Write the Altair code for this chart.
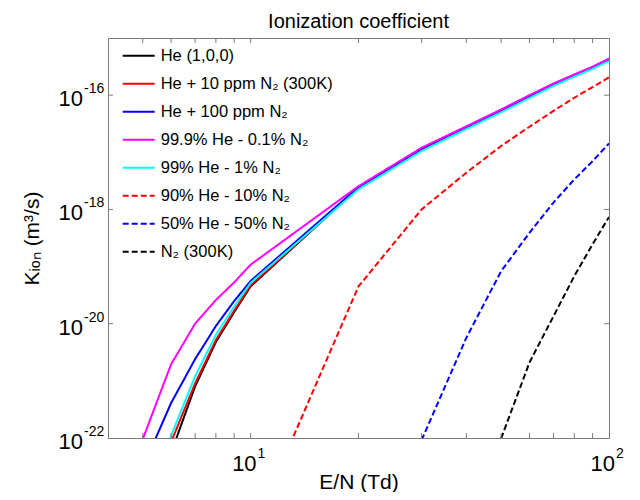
import altair as alt
import pandas as pd

# ---------------- data ----------------
series_names = [
    "He (1,0,0)",
    "He + 10 ppm N₂ (300K)",
    "He + 100 ppm N₂",
    "99.9% He - 0.1% N₂",
    "99% He - 1% N₂",
    "90% He - 10% N₂",
    "50% He - 50% N₂",
    "N₂ (300K)",
]
series_colors = ["#000000", "#ff0000", "#0000ff", "#ff00ff", "#00ffff",
                 "#ff0000", "#0000ff", "#000000"]
series_dashes = [[1, 0], [1, 0], [1, 0], [1, 0], [1, 0], [6, 3], [6, 3], [6, 3]]

en_he = [5, 6, 7, 8, 9, 10, 20, 30, 40, 50, 60, 70, 80, 90, 100]
k_he = [4e-24, 5.5e-23, 8.0e-22, 4.8e-21, 1.6e-20, 4.5e-20, 2.40e-18, 1.12e-17,
        2.70e-17, 5.3e-17, 9.4e-17, 1.52e-16, 2.20e-16, 3.00e-16, 4.15e-16]
k_he_10ppm = [6e-24, 8.5e-23, 9.0e-22, 5.2e-21, 1.7e-20, 4.7e-20, 2.40e-18, 1.12e-17,
              2.70e-17, 5.3e-17, 9.4e-17, 1.52e-16, 2.20e-16, 3.00e-16, 4.15e-16]
k_he_100ppm = [3e-23, 4.1e-22, 2.4e-21, 9.1e-21, 2.5e-20, 5.6e-20, 2.45e-18, 1.16e-17,
               2.78e-17, 5.5e-17, 9.7e-17, 1.57e-16, 2.26e-16, 3.08e-16, 4.25e-16]
k_01 = [9.5e-23, 1.95e-21, 1.0e-20, 2.6e-20, 5.3e-20, 1.08e-19, 2.55e-18, 1.20e-17,
        2.85e-17, 5.6e-17, 1.0e-16, 1.60e-16, 2.30e-16, 3.15e-16, 4.35e-16]
k_1 = [5e-24, 1.1e-22, 1.2e-21, 6.4e-21, 2.0e-20, 5.2e-20, 2.25e-18, 1.05e-17,
       2.55e-17, 5.0e-17, 8.9e-17, 1.45e-16, 2.10e-16, 2.88e-16, 3.95e-16]

en_10 = [10, 20, 30, 40, 50, 60, 70, 80, 90, 100]
k_10 = [2e-24, 4.5e-20, 1.0e-18, 4.4e-18, 1.29e-17, 2.8e-17, 5.3e-17, 9.0e-17,
        1.38e-16, 2.05e-16]

en_50 = [30, 40, 50, 60, 70, 80, 90, 100]
k_50 = [9.2e-23, 5.7e-21, 8.3e-20, 3.9e-19, 1.32e-18, 3.35e-18, 7.0e-18, 1.43e-17]

en_n2 = [50, 60, 70, 80, 90, 100]
k_n2 = [9.8e-23, 2.1e-21, 1.35e-20, 6.8e-20, 2.46e-19, 7.4e-19]

series_x = [en_he, en_he, en_he, en_he, en_he, en_10, en_50, en_n2]
series_y = [k_he, k_he_10ppm, k_he_100ppm, k_01, k_1, k_10, k_50, k_n2]

x_domain = [4, 100]
y_domain = [1e-22, 1e-15]
x_label_values = [10, 100]
x_label_base = ["10", "10"]
x_label_exp = ["1", "2"]
x_tick_values = [5, 6, 7, 8, 9, 10, 20, 30, 40, 50, 60, 70, 80, 90]
y_label_values = [1e-22, 1e-20, 1e-18, 1e-16]
y_label_base = ["10", "10", "10", "10"]
y_label_exp = ["-22", "-20", "-18", "-16"]
y_tick_values = [1e-20, 1e-18, 1e-16]

# ---------------- build ----------------
rows = []
for name, xs, ys in zip(series_names, series_x, series_y):
    for xv, yv in zip(xs, ys):
        rows.append({"series": name, "EN": xv, "K": yv})
df = pd.DataFrame(rows)

FONT = "Liberation Sans"
GRAY = "#7a7a7a"
LBL = 22
EXP = 14

xscale = alt.Scale(type="log", domain=x_domain)
yscale = alt.Scale(type="log", domain=y_domain)

xaxis = alt.Axis(values=x_label_values, labels=False, title="E/N (Td)", titlePadding=33)
yaxis = alt.Axis(values=y_label_values, labels=False, title="Kᵢₒₙ (m³/s)", titlePadding=66)

legend = alt.Legend(
    title=None, orient="none", legendX=13.7, legendY=3.8, padding=0,
    symbolType="stroke", symbolSize=1024, symbolStrokeWidth=2,
    labelFont=FONT, labelFontSize=16.5, labelColor="black", labelOffset=5,
    labelLimit=0, clipHeight=27.8, rowPadding=0,
)

lines = alt.Chart(df).mark_line(clip=True, strokeWidth=2).encode(
    x=alt.X("EN:Q", scale=xscale, axis=xaxis),
    y=alt.Y("K:Q", scale=yscale, axis=yaxis),
    color=alt.Color("series:N", scale=alt.Scale(domain=series_names, range=series_colors),
                    legend=legend),
    strokeDash=alt.StrokeDash("series:N", scale=alt.Scale(domain=series_names, range=series_dashes),
                              legend=legend),
)

# inward ticks on all four sides
xt = pd.DataFrame({"EN": x_tick_values})
yt = pd.DataFrame({"K": y_tick_values})
tb = alt.Chart(xt).mark_rule(color=GRAY).encode(
    x=alt.X("EN:Q", scale=xscale, axis=xaxis), y=alt.value(400), y2=alt.value(395))
tt = alt.Chart(xt).mark_rule(color=GRAY).encode(
    x=alt.X("EN:Q", scale=xscale, axis=xaxis), y=alt.value(0), y2=alt.value(5))
tl = alt.Chart(yt).mark_rule(color=GRAY).encode(
    y=alt.Y("K:Q", scale=yscale, axis=yaxis), x=alt.value(0), x2=alt.value(5))
tr = alt.Chart(yt).mark_rule(color=GRAY).encode(
    y=alt.Y("K:Q", scale=yscale, axis=yaxis), x=alt.value(501), x2=alt.value(496))

# tick labels as base + superscript exponent
xl = pd.DataFrame({"EN": x_label_values, "b": x_label_base, "e": x_label_exp})
yl = pd.DataFrame({"K": y_label_values, "b": y_label_base, "e": y_label_exp})
xb = alt.Chart(xl).mark_text(align="right", baseline="middle", font=FONT, fontSize=LBL,
                             dx=6, color="black").encode(
    x=alt.X("EN:Q", scale=xscale, axis=xaxis), y=alt.value(426), text="b:N")
xe = alt.Chart(xl).mark_text(align="left", baseline="middle", font=FONT, fontSize=EXP,
                             dx=7, color="black").encode(
    x=alt.X("EN:Q", scale=xscale, axis=xaxis), y=alt.value(416), text="e:N")
yb = alt.Chart(yl).mark_text(align="right", baseline="middle", font=FONT, fontSize=LBL,
                             dy=4, color="black").encode(
    y=alt.Y("K:Q", scale=yscale, axis=yaxis), x=alt.value(-25), text="b:N")
ye = alt.Chart(yl).mark_text(align="left", baseline="middle", font=FONT, fontSize=EXP,
                             dy=-6, color="black").encode(
    y=alt.Y("K:Q", scale=yscale, axis=yaxis), x=alt.value(-24), text="e:N")

chart = alt.layer(lines, tb, tt, tl, tr, xb, xe, yb, ye).properties(
    width=501, height=400,
    autosize=alt.AutoSizeParams(type="none"),
    padding={"left": 100, "top": 30, "right": 23, "bottom": 54},
    title=alt.TitleParams("Ionization coefficient", font=FONT, fontSize=20,
                          fontWeight="normal", anchor="middle", offset=6,
                          color="black"),
    background="white",
).configure_view(
    stroke=GRAY, strokeWidth=1
).configure_axis(
    domain=False, grid=False, ticks=False,
    titleFont=FONT, titleFontSize=21, titleFontWeight="normal", titleColor="black",
)

chart.save("out.html", embed_options={"renderer": "svg", "actions": False})
